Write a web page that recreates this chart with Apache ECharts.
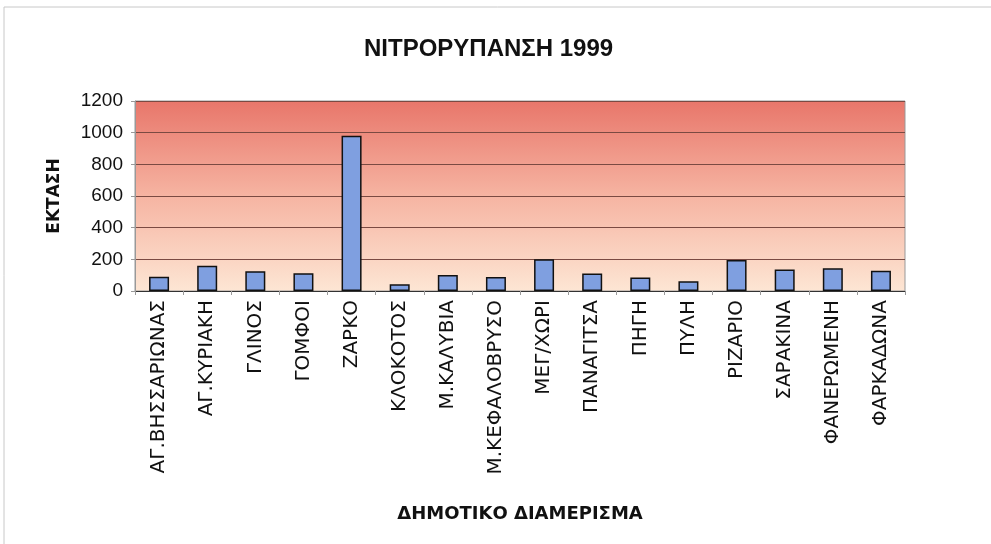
<!DOCTYPE html>
<html>
<head>
<meta charset="utf-8">
<script src="https://cdn.jsdelivr.net/npm/echarts@6/dist/echarts.min.js"></script>
<style>
  html, body { margin: 0; padding: 0; background: #fff; }
  #main { width: 991px; height: 544px; }
</style>
</head>
<body>
<div id="main"></div>
<script>
// διαμερίσματα
var categories = ['ΑΓ.ΒΗΣΣΑΡΙΩΝΑΣ', 'ΑΓ.ΚΥΡΙΑΚΗ', 'ΓΛΙΝΟΣ', 'ΓΟΜΦΟΙ', 'ΖΑΡΚΟ', 'ΚΛΟΚΟΤΟΣ',
  'Μ.ΚΑΛΥΒΙΑ', 'Μ.ΚΕΦΑΛΟΒΡΥΣΟ', 'ΜΕΓ/ΧΩΡΙ', 'ΠΑΝΑΓΙΤΣΑ', 'ΠΗΓΗ', 'ΠΥΛΗ',
  'ΡΙΖΑΡΙΟ', 'ΣΑΡΑΚΙΝΑ', 'ΦΑΝΕΡΩΜΕΝΗ', 'ΦΑΡΚΑΔΩΝΑ'];
// έκταση
var values = [90, 160, 125, 112, 980, 42, 101, 88, 200, 110, 86, 61, 196, 136, 143, 128];

var chart = echarts.init(document.getElementById('main'));

var option = {
  animation: false,
  backgroundColor: '#fff',
  textStyle: { fontFamily: 'Liberation Sans, Arial, sans-serif' },
  title: {
    text: 'ΝΙΤΡΟΡΥΠΑΝΣΗ 1999',
    left: 359,
    top: 32,
    textStyle: { fontSize: 24, fontWeight: 'bold', color: '#111' }
  },
  graphic: [{
    type: 'polyline',
    shape: { points: [[4, 544], [4, 7], [991, 7]] },
    style: { stroke: '#c8c8c8', lineWidth: 1, fill: null }
  }],
  grid: {
    left: 135,
    right: 86,
    top: 101,
    bottom: 253,
    show: true,
    borderColor: '#999',
    borderWidth: 1,
    backgroundColor: new echarts.graphic.LinearGradient(0, 0, 0, 1, [
      { offset: 0, color: '#e8766a' },
      { offset: 0.5, color: '#f6b4a2' },
      { offset: 1, color: '#fde6d4' }
    ])
  },
  xAxis: {
    type: 'category',
    data: categories,
    name: 'ΔΗΜΟΤΙΚΟ ΔΙΑΜΕΡΙΣΜΑ',
    nameLocation: 'middle',
    nameGap: 214,
    nameTextStyle: { fontSize: 18, fontWeight: 'bold', color: '#111', fontFamily: 'DejaVu Sans' },
    axisLine: { lineStyle: { color: '#333', width: 1 } },
    axisTick: { show: true, length: 4, lineStyle: { color: '#999' } },
    axisLabel: {
      rotate: 90,
      interval: 0,
      margin: 9,
      fontSize: 20,
      fontFamily: 'DejaVu Sans',
      color: '#111'
    }
  },
  yAxis: {
    type: 'value',
    min: 0,
    max: 1200,
    interval: 200,
    name: 'ΕΚΤΑΣΗ',
    nameLocation: 'middle',
    nameGap: 72,
    nameRotate: 90,
    nameTextStyle: { fontSize: 17, fontWeight: 'bold', color: '#111', fontFamily: 'DejaVu Sans' },
    axisLine: { show: true, lineStyle: { color: '#999' } },
    axisTick: { show: true, length: 4, lineStyle: { color: '#999' } },
    axisLabel: {
      fontSize: 19,
      color: '#111',
      margin: 12,
      formatter: function (v) { return String(v); }
    },
    splitLine: { lineStyle: { color: '#7a4a42', width: 1 } }
  },
  series: [{
    type: 'bar',
    data: values,
    barWidth: 20,
    itemStyle: {
      color: '#7f9fe0',
      borderColor: '#111',
      borderWidth: 1.5
    }
  }]
};

chart.setOption(option);
</script>
</body>
</html>
